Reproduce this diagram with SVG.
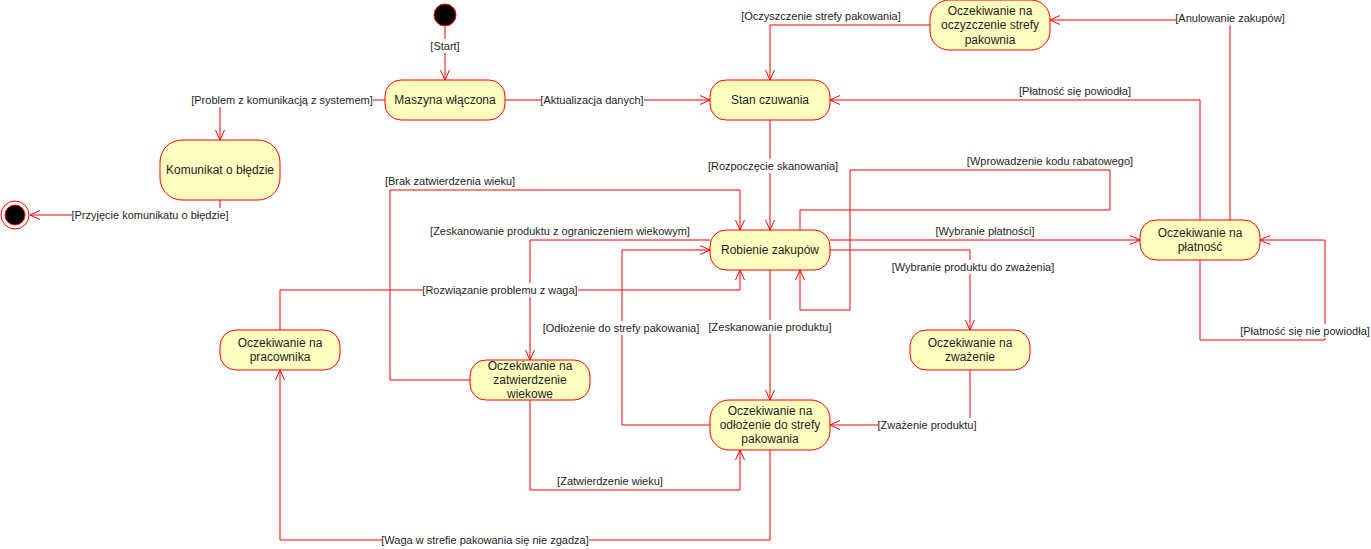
<svg xmlns="http://www.w3.org/2000/svg" width="1371" height="549" viewBox="0 0 1371 549">
  <style>
    .state rect { fill: #FFFFC0; stroke: #FF0000; stroke-width: 1; }
    .state text { font-family: "Liberation Sans", Arial, sans-serif; font-size: 12px; fill: #1e1e1e; text-anchor: middle; }
    .edge { fill: none; stroke: #FF0000; stroke-width: 1; marker-end: url(#open); }
    .lbl rect { fill: #FFFFFF; }
    .lbl text { font-family: "Liberation Sans", Arial, sans-serif; font-size: 11px; fill: #1e1e1e; text-anchor: middle; }
  </style>
  <defs>
    <marker id="open" markerUnits="userSpaceOnUse" viewBox="-11 -6 12 12" refX="0" refY="0" markerWidth="12" markerHeight="12" orient="auto" overflow="visible">
      <path d="M-10,-4.5 L0,0 L-10,4.5" fill="none" stroke="#FF0000" stroke-width="1"/>
    </marker>
  </defs>
  <rect width="1371" height="549" fill="#FFFFFF"/>

  <!-- transitions -->
  <g id="connectors">
    <path class="edge" d="M445 27 V80"/>
    <path class="edge" d="M505 100 H710"/>
    <path class="edge" d="M385 100 H220 V140"/>
    <path class="edge" d="M220 200 V215 H30"/>
    <path class="edge" d="M770 120 V230"/>
    <path class="edge" d="M930 25 H770 V80"/>
    <path class="edge" d="M1230 220 V20 H1050"/>
    <path class="edge" d="M1200 220 V100 H830"/>
    <path class="edge" d="M830 240 H1140"/>
    <path class="edge" d="M830 250 H970 V330"/>
    <path class="edge" d="M800 230 V210 H1110 V170 H850 V310 H800 V270"/>
    <path class="edge" d="M470 380 H390 V190 H740 V230"/>
    <path class="edge" d="M710 240 H530 V360"/>
    <path class="edge" d="M280 330 V290 H740 V270"/>
    <path class="edge" d="M710 425 H622 V250 H710"/>
    <path class="edge" d="M770 270 V400"/>
    <path class="edge" d="M970 370 V425 H830"/>
    <path class="edge" d="M530 400 V490 H740 V450"/>
    <path class="edge" d="M770 450 V540 H280 V370"/>
    <path class="edge" d="M1200 260 V340 H1325 V240 H1260"/>

    <g class="lbl">
      <rect x="431" y="39" width="29" height="14"/><text x="445" y="50">[Start]</text>
      <rect x="541" y="93" width="103" height="14"/><text x="592" y="104">[Aktualizacja danych]</text>
      <rect x="192" y="93" width="181" height="14"/><text x="282" y="104">[Problem z komunikacją z systemem]</text>
      <rect x="72" y="208" width="157" height="14"/><text x="150" y="219">[Przyjęcie komunikatu o błędzie]</text>
      <rect x="708" y="159" width="130" height="14"/><text x="773" y="170">[Rozpoczęcie skanowania]</text>
      <rect x="742" y="9" width="158" height="14"/><text x="821" y="20">[Oczyszczenie strefy pakowania]</text>
      <rect x="1176" y="11" width="109" height="14"/><text x="1230" y="22">[Anulowanie zakupów]</text>
      <rect x="1019" y="84" width="112" height="14"/><text x="1075" y="95">[Płatność się powiodła]</text>
      <rect x="968" y="154" width="165" height="14"/><text x="1050" y="165">[Wprowadzenie kodu rabatowego]</text>
      <rect x="936" y="224" width="99" height="14"/><text x="985" y="235">[Wybranie płatności]</text>
      <rect x="892" y="260" width="162" height="14"/><text x="973" y="271">[Wybranie produktu do zważenia]</text>
      <rect x="385" y="174" width="130" height="14"/><text x="450" y="185">[Brak zatwierdzenia wieku]</text>
      <rect x="430" y="224" width="260" height="14"/><text x="560" y="235">[Zeskanowanie produktu z ograniczeniem wiekowym]</text>
      <rect x="423" y="283" width="155" height="14"/><text x="500" y="294">[Rozwiązanie problemu z waga]</text>
      <rect x="543" y="321" width="156" height="14"/><text x="621" y="332">[Odłożenie do strefy pakowania]</text>
      <rect x="709" y="320" width="123" height="14"/><text x="770" y="331">[Zeskanowanie produktu]</text>
      <rect x="878" y="418" width="99" height="14"/><text x="927" y="429">[Zważenie produktu]</text>
      <rect x="558" y="474" width="105" height="14"/><text x="610" y="485">[Zatwierdzenie wieku]</text>
      <rect x="382" y="533" width="207" height="14"/><text x="485" y="544">[Waga w strefie pakowania się nie zgadza]</text>
      <rect x="1240" y="324" width="130" height="14"/><text x="1305" y="335">[Płatność się nie powiodła]</text>
    </g>
  </g>

  <!-- pseudo-states -->
  <g id="initial">
    <circle cx="445" cy="15" r="11" fill="#000000" stroke="#FF0000" stroke-width="1"/>
  </g>
  <g id="final">
    <circle cx="15" cy="215" r="14" fill="#FFFFFF" stroke="#FF0000" stroke-width="1"/>
    <circle cx="15" cy="215" r="10" fill="#000000" stroke="#FF0000" stroke-width="1"/>
  </g>

  <!-- states -->
  <g id="maszyna" class="state">
    <rect x="385" y="80" width="120" height="40" rx="16"/>
    <text x="445" y="104">Maszyna włączona</text>
  </g>
  <g id="stan-czuwania" class="state">
    <rect x="710" y="80" width="120" height="40" rx="16"/>
    <text x="770" y="104">Stan czuwania</text>
  </g>
  <g id="komunikat" class="state">
    <rect x="160" y="140" width="120" height="60" rx="22"/>
    <text x="220" y="174">Komunikat o błędzie</text>
  </g>
  <g id="oczyszczenie" class="state">
    <rect x="930" y="0" width="120" height="50" rx="19"/>
    <text x="990" y="15">Oczekiwanie na</text>
    <text x="990" y="29">oczyzczenie strefy</text>
    <text x="990" y="44">pakownia</text>
  </g>
  <g id="platnosc" class="state">
    <rect x="1140" y="220" width="120" height="40" rx="16"/>
    <text x="1200" y="237">Oczekiwanie na</text>
    <text x="1200" y="251">płatność</text>
  </g>
  <g id="robienie-zakupow" class="state">
    <rect x="710" y="230" width="120" height="40" rx="16"/>
    <text x="770" y="254">Robienie zakupów</text>
  </g>
  <g id="zwazenie" class="state">
    <rect x="910" y="330" width="120" height="40" rx="16"/>
    <text x="970" y="347">Oczekiwanie na</text>
    <text x="970" y="361">zważenie</text>
  </g>
  <g id="odlozenie" class="state">
    <rect x="710" y="400" width="120" height="50" rx="19"/>
    <text x="770" y="415">Oczekiwanie na</text>
    <text x="770" y="429">odłożenie do strefy</text>
    <text x="770" y="443">pakowania</text>
  </g>
  <g id="pracownik" class="state">
    <rect x="220" y="330" width="120" height="40" rx="16"/>
    <text x="280" y="347">Oczekiwanie na</text>
    <text x="280" y="361">pracownika</text>
  </g>
  <g id="zatwierdzenie" class="state">
    <rect x="470" y="360" width="120" height="40" rx="16"/>
    <text x="530" y="370">Oczekiwanie na</text>
    <text x="530" y="384">zatwierdzenie</text>
    <text x="530" y="398">wiekowe</text>
  </g>
</svg>
